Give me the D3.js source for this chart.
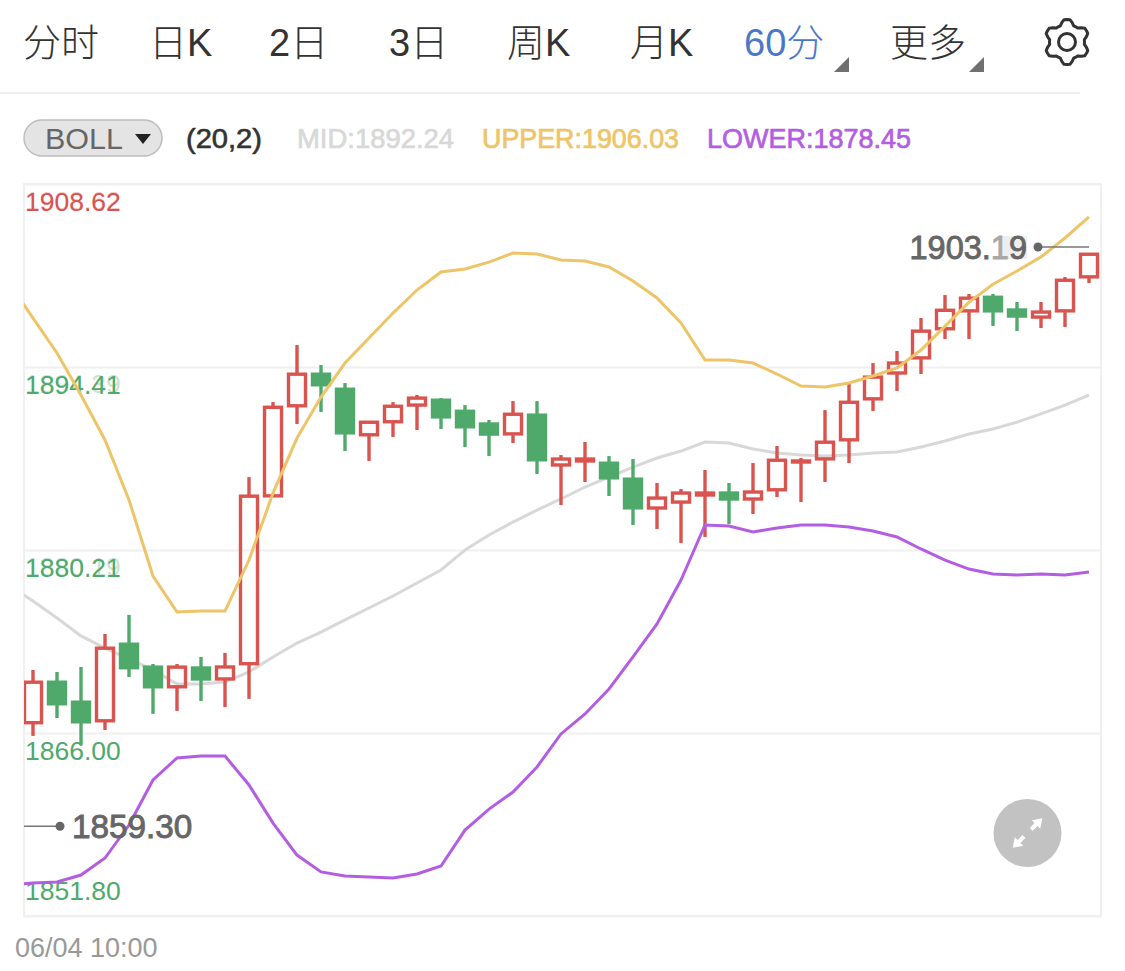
<!DOCTYPE html>
<html><head><meta charset="utf-8">
<script src="https://cdn.jsdelivr.net/npm/d3@7"></script>
<style>
html,body{margin:0;padding:0;background:#fff;}
svg{display:block;font-family:"Liberation Sans","Noto Sans CJK SC",sans-serif;}
</style></head><body><svg id="c" width="1125" height="971"></svg>
<script>
const tabs=["分时","日K","2日","3日","周K","月K","60分","更多"];
const tabActive="60分";
const tabsWithMenu=["60分","更多"];
const indicatorName="BOLL";
const indicatorParams="(20,2)";
const legendLabels=["MID:1892.24","UPPER:1906.03","LOWER:1878.45"];
const yTicks=[1908.62,1894.41,1880.21,1866.00,1851.80];
const ghostTicks=["1908.62","1894.39","1880.19","",""];
const maxLabelParts=["1903.","1","9"], minLabel="1859.30";
const maxLevel=1903.73, minLevel=1858.77;
const timeLabel="06/04 10:00";
const opens=[1866.71,1870.04,1868.49,1866.86,1872.99,1871.21,1869.50,1871.05,1870.20,1871.29,1884.32,1891.31,1893.95,1892.78,1889.06,1890.07,1891.46,1891.93,1891.07,1889.99,1889.13,1890.77,1886.81,1887.12,1887.04,1885.80,1883.47,1883.93,1884.48,1884.63,1884.17,1884.79,1887.04,1887.19,1888.67,1891.85,1893.95,1895.03,1897.29,1898.68,1899.92,1898.84,1898.29,1898.68,1901.32];
const highs=[1870.90,1870.74,1871.13,1873.69,1875.17,1871.36,1871.36,1871.91,1872.22,1885.87,1891.69,1896.12,1894.57,1893.17,1890.22,1891.69,1892.24,1892.00,1891.46,1890.30,1891.77,1891.77,1887.58,1888.59,1887.50,1887.27,1885.41,1884.94,1886.42,1885.41,1886.96,1888.28,1887.35,1891.07,1893.17,1894.72,1895.66,1898.22,1900.00,1900.08,1900.08,1899.46,1899.46,1901.40,1903.26];
const lows=[1865.78,1867.17,1865.08,1866.24,1870.35,1867.49,1867.72,1868.49,1868.02,1868.65,1884.32,1889.99,1890.92,1887.89,1887.12,1888.98,1889.52,1889.60,1888.20,1887.50,1888.51,1886.11,1883.70,1885.49,1884.40,1882.15,1881.84,1880.75,1881.22,1882.23,1883.00,1884.32,1883.93,1885.49,1886.96,1891.00,1892.55,1893.87,1896.59,1896.59,1897.60,1897.21,1897.44,1897.52,1900.93];
const closes=[1870.04,1868.18,1866.78,1872.68,1870.98,1869.50,1871.21,1870.20,1871.13,1884.48,1891.38,1893.95,1892.94,1889.21,1890.22,1891.46,1892.00,1890.45,1889.68,1889.21,1890.84,1887.12,1887.27,1887.27,1885.72,1883.39,1884.24,1884.63,1884.63,1884.17,1884.71,1887.27,1887.12,1888.67,1891.77,1893.72,1894.72,1897.29,1898.91,1899.85,1898.68,1898.37,1898.68,1901.24,1903.26];
const candleUp=[1,0,0,1,0,0,1,0,1,1,1,1,0,0,1,1,1,0,0,0,1,0,1,1,0,0,1,1,1,0,1,1,1,1,1,1,1,1,1,1,0,0,1,1,1];
// Band series start one period before the first visible candle
const upper=[1900.94,1898.21,1895.50,1892.24,1888.75,1884.09,1878.19,1875.40,1875.48,1875.48,1879.43,1884.63,1888.90,1892.08,1894.72,1896.66,1898.60,1900.39,1901.79,1902.02,1902.56,1903.26,1903.19,1902.72,1902.64,1902.18,1901.09,1899.77,1897.83,1894.96,1894.96,1894.72,1893.87,1892.94,1892.86,1893.17,1893.72,1894.34,1895.73,1897.59,1899.45,1900.84,1901.87,1902.96,1904.43,1906.06];
const mid=[1877.49,1876.25,1874.93,1873.54,1872.60,1871.75,1870.90,1869.81,1869.81,1869.96,1870.74,1871.91,1872.99,1873.84,1874.78,1875.71,1876.64,1877.65,1878.66,1880.21,1881.37,1882.38,1883.31,1884.17,1885.10,1885.87,1886.65,1887.35,1887.89,1888.59,1888.51,1888.05,1887.74,1887.58,1887.50,1887.58,1887.74,1887.81,1888.20,1888.67,1889.21,1889.60,1890.14,1890.77,1891.46,1892.24];
const lower=[1854.20,1854.36,1854.44,1854.98,1856.30,1858.86,1862.36,1864.07,1864.22,1864.22,1861.97,1859.01,1856.53,1855.22,1854.91,1854.83,1854.75,1855.06,1855.68,1858.47,1860.10,1861.42,1863.37,1865.93,1867.48,1869.42,1871.91,1874.47,1877.88,1882.15,1882.07,1881.61,1881.92,1882.15,1882.15,1882.00,1881.69,1881.22,1880.29,1879.43,1878.73,1878.34,1878.27,1878.34,1878.27,1878.50];

const RED="#d9534f",GREEN="#4ea96b",YEL="#eec468",PUR="#b35ee2",GRY="#d8d8d8",TXT="#666";
const L=24,R=1101,T=184,B=916;
const svg=d3.select("#c");
const x=d3.scaleLinear().domain([0,44]).range([33,1089]);
const y=d3.scaleLinear().domain([1851.80,1908.62]).range([B,T]);

// header tabs
const tabX=[23,149,269,389,507,630,744,890];
svg.selectAll("text.tab").data(tabs).join("text").attr("class","tab")
 .attr("x",(d,i)=>tabX[i]).attr("y",56).attr("font-size",38).attr("font-weight",300)
 .attr("fill",d=>d===tabActive?"#4a78c8":"#333").text(d=>d);
const triX={"60分":834,"更多":969};
tabsWithMenu.forEach(t=>{const a=triX[t];
 svg.append("path").attr("d",`M${a} 72 L${a+15} 72 L${a+15} 57 Z`).attr("fill","#707070");});
// gear
const gearPts=d3.range(0,48).map(i=>{const a=i/48*2*Math.PI;const k=(i%8);
 const r=(k<=1||k===7)?22.5:(k===2||k===6)?20:17.5;return [a,r];});
svg.append("path").attr("transform","translate(1067,42)")
 .attr("d",d3.lineRadial().curve(d3.curveLinearClosed)(gearPts))
 .attr("fill","none").attr("stroke","#333").attr("stroke-width",3).attr("stroke-linejoin","round");
svg.append("circle").attr("cx",1067).attr("cy",42).attr("r",8.5).attr("fill","none").attr("stroke","#333").attr("stroke-width",3);
svg.append("line").attr("x1",0).attr("x2",1080).attr("y1",93).attr("y2",93).attr("stroke","#f0f0f0").attr("stroke-width",2);

// legend
svg.append("rect").attr("x",24).attr("y",120).attr("width",138).attr("height",36).attr("rx",18)
 .attr("fill","#e4e4e4").attr("stroke","#bdbdbd").attr("stroke-width",1.5);
svg.append("text").attr("x",45).attr("y",149).attr("font-size",30).attr("fill","#666").attr("textLength",78).attr("lengthAdjust","spacingAndGlyphs").text(indicatorName);
svg.append("path").attr("d","M135 134 L151 134 L143 144 Z").attr("fill","#222");
svg.append("text").attr("x",186).attr("y",148).attr("font-size",27).attr("fill","#333").attr("stroke","#333").attr("stroke-width",.6).attr("textLength",76).attr("lengthAdjust","spacingAndGlyphs").text(indicatorParams);
const legX=[297,482,707],legC=[GRY,YEL,PUR],legW=[157,197,204];
svg.selectAll("text.leg").data(legendLabels).join("text").attr("class","leg")
 .attr("x",(d,i)=>legX[i]).attr("y",148).attr("font-size",27)
 .attr("textLength",(d,i)=>legW[i]).attr("lengthAdjust","spacingAndGlyphs")
 .attr("stroke",(d,i)=>legC[i]).attr("stroke-width",.7).attr("fill",(d,i)=>legC[i]).text(d=>d);

// chart frame and grid
svg.append("rect").attr("x",L).attr("y",T).attr("width",R-L).attr("height",B-T)
 .attr("fill","none").attr("stroke","#f0f0f0").attr("stroke-width",2);
const axis=d3.axisRight(y).tickValues(yTicks).tickSize(R-L).tickFormat(d3.format(".2f"));
const gA=svg.append("g").attr("transform",`translate(${L},0)`).call(axis);
gA.select(".domain").remove();
gA.selectAll("line").attr("stroke","#f0f0f0").attr("stroke-width",2);
const labelOffset=[26,26,26,26,-17];
gA.selectAll("text").attr("x",1).attr("dy",0).attr("y",(d,i)=>labelOffset[i])
 .attr("font-family",'"Liberation Sans"').attr("font-size",26.5)
 .attr("fill",(d,i)=>i===0?RED:GREEN);
yTicks.forEach((v,i)=>{ if(ghostTicks[i])
 svg.append("text").attr("x",L+1).attr("y",y(v)+labelOffset[i]).attr("font-size",26.5)
  .attr("fill",i===0?RED:GREEN).attr("opacity",.3).text(ghostTicks[i]);});

// plot
svg.append("clipPath").attr("id","plot").append("rect").attr("x",L).attr("y",T).attr("width",R-L).attr("height",B-T);
const plot=svg.append("g").attr("clip-path","url(#plot)");
const band=d3.line().x((d,i)=>x(i-1)).y(d=>y(d));
plot.append("path").attr("d",band(mid)).attr("fill","none").attr("stroke",GRY).attr("stroke-width",3);
const bw=17;
const cg=plot.selectAll("g.k").data(opens.map((o,i)=>({i,o,h:highs[i],l:lows[i],c:closes[i],up:candleUp[i]}))).join("g").attr("class","k");
cg.append("line").attr("x1",d=>x(d.i)).attr("x2",d=>x(d.i))
 .attr("y1",d=>y(d.h)).attr("y2",d=>y(Math.max(d.o,d.c))).attr("stroke",d=>d.up?RED:GREEN).attr("stroke-width",3.4);
cg.append("line").attr("x1",d=>x(d.i)).attr("x2",d=>x(d.i))
 .attr("y1",d=>y(Math.min(d.o,d.c))).attr("y2",d=>y(d.l)).attr("stroke",d=>d.up?RED:GREEN).attr("stroke-width",3.4);
const bodyH=d=>{const raw=Math.abs(y(d.o)-y(d.c));return raw>12?raw-2.4:Math.max(0.01,raw);};
cg.append("rect").attr("x",d=>x(d.i)-bw/2).attr("width",bw)
 .attr("y",d=>(y(d.o)+y(d.c))/2-bodyH(d)/2).attr("height",bodyH)
 .attr("fill",d=>d.up?"none":GREEN).attr("stroke",d=>d.up?RED:GREEN).attr("stroke-width",3.4);
plot.append("path").attr("d",band(upper)).attr("fill","none").attr("stroke",YEL).attr("stroke-width",3);
plot.append("path").attr("d",band(lower)).attr("fill","none").attr("stroke",PUR).attr("stroke-width",3);

// extreme annotations
svg.append("line").attr("x1",1038).attr("x2",x(44)).attr("y1",y(maxLevel)).attr("y2",y(maxLevel)).attr("stroke","#777").attr("stroke-width",1.5);
svg.append("circle").attr("cx",1038).attr("cy",y(maxLevel)).attr("r",4.5).attr("fill","#666");
svg.append("rect").attr("x",1003).attr("y",y(maxLevel)-11).attr("width",24).attr("height",23).attr("fill","#eee");
const maxT=svg.append("text").attr("x",1027).attr("y",y(maxLevel)+12).attr("text-anchor","end").attr("font-size",32.5);
const partStyle=[[TXT,TXT],["#a8a8a8","#a8a8a8"],[TXT,TXT]];
maxLabelParts.forEach((p,i)=>maxT.append("tspan").attr("fill",partStyle[i][0]).attr("stroke",partStyle[i][1]).attr("stroke-width",.9).text(p));
svg.append("line").attr("x1",L).attr("x2",60).attr("y1",y(minLevel)).attr("y2",y(minLevel)).attr("stroke","#777").attr("stroke-width",1.5);
svg.append("circle").attr("cx",60).attr("cy",y(minLevel)).attr("r",4.5).attr("fill","#666");
svg.append("text").attr("x",72).attr("y",y(minLevel)+12).attr("font-size",33.3).attr("fill",TXT).attr("stroke",TXT).attr("stroke-width",.9).text(minLabel);

// time label
svg.append("text").attr("x",15).attr("y",957).attr("font-size",27).attr("fill","#999").text(timeLabel);

// expand button
svg.append("circle").attr("cx",1027.5).attr("cy",833).attr("r",34).attr("fill","#c2c2c2");
const ex=svg.append("g").attr("transform","translate(1027.5,833) rotate(-45)");
ex.append("path").attr("d","M5 -2 L12 -2 L12 -6 L21 0 L12 6 L12 2 L5 2 Z").attr("fill","#fff");
ex.append("path").attr("d","M-5 -2 L-12 -2 L-12 -6 L-21 0 L-12 6 L-12 2 L-5 2 Z").attr("fill","#fff");
</script></body></html>
